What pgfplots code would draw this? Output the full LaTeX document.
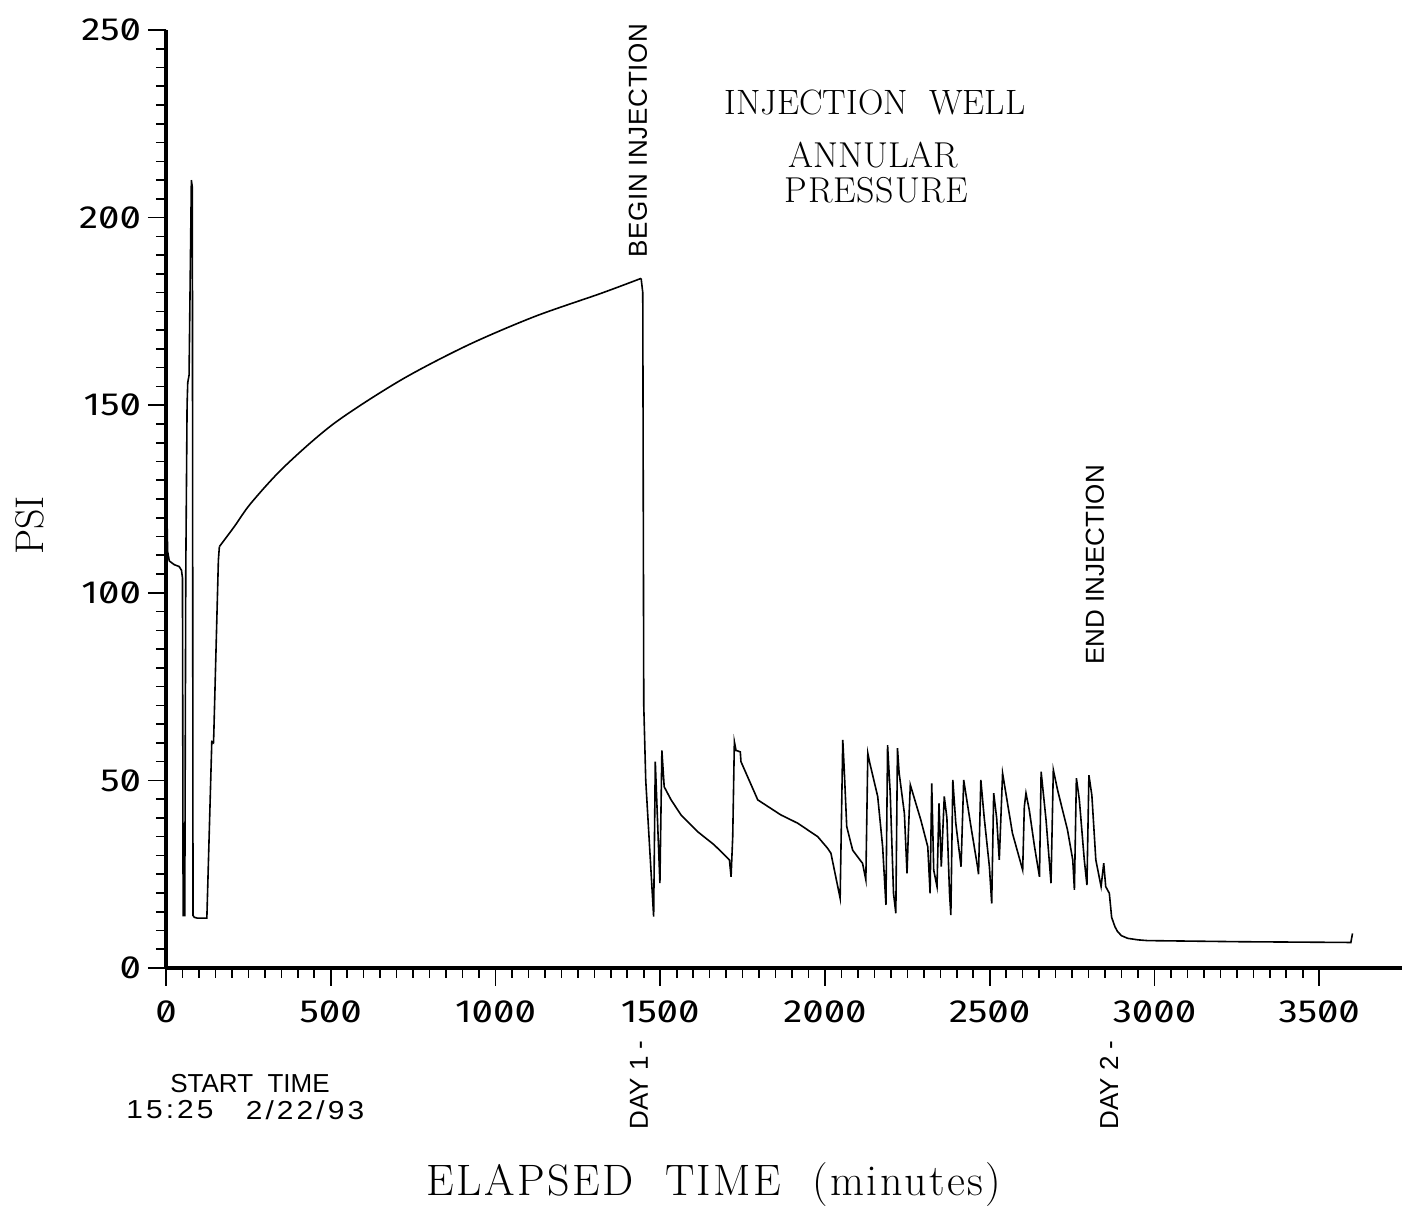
\documentclass[border=0pt]{standalone}
\usepackage{fontspec}
\usepackage{pgfplots}
\pgfplotsset{compat=1.18}
\newfontfamily\sanslab{Liberation Sans}
\newfontfamily\sanswide[LetterSpace=2.5]{Liberation Sans}
\newfontfamily\datefont[FakeStretch=1.15,LetterSpace=12]{Liberation Sans}
\newfontfamily\tickfont[FakeStretch=1.2,Numbers=SlashedZero]{Fira Sans}
\newfontfamily\xlabfont[LetterSpace=5.5]{Latin Modern Roman}
\newfontfamily\presfont[LetterSpace=2]{Latin Modern Roman}
\begin{document}
\begin{tikzpicture}
\begin{axis}[
  scale only axis, width=617.8pt, height=469pt,
  xmin=0, xmax=3750, ymin=0, ymax=250,
  axis lines=left, axis line style={-},
  x axis line style={line width=1.6pt},
  y axis line style={line width=2pt},
  xtick={0,500,...,3500}, ytick={0,50,...,250},
  minor x tick num=9, minor y tick num=9,
  tick align=outside, major tick length=9pt, minor tick length=5pt,
  every tick/.style={black, line width=0.8pt},
  tick label style={font=\tickfont\fontsize{16}{16}\selectfont},
  xticklabel style={yshift=-4pt},
  /pgf/number format/assume math mode=true,
  /pgf/number format/1000 sep={},
  clip=false,
]
% start-up and shut-in spikes
\addplot[black, line width=0.8pt] coordinates {
(0,250)(1,200)(3,120)(5,111)(10,108.5)(25,107.5)(40,107)(47,106)(50,104)(52,14)(57,14)(60,105)(64,150)(66,156)(70,158)(77,210)(80,208)(82,14)(86,13.5)(95,13.3)(124,13.3)(139,60.3)(144,60)(145,62)(159,108.7)(162,112.3)
};
% pressure build-up before injection
\addplot[black, line width=0.8pt, smooth, tension=0.5] coordinates {
(162,112.3)(207,117.6)(258,123.9)(359,133.6)(511,145.2)(713,156.7)(916,166)(1118,173.6)(1320,179.8)(1442,183.8)
};
% injection period and fall-off
\addplot[black, line width=0.8pt] coordinates {
(1442,183.8)(1447,180)(1450,70)(1456,50)(1480,13.7)(1485,55)(1499,22.6)(1505,58)(1512,48.3)(1533,44.8)(1563,40.8)(1614,36.3)(1664,32.8)(1710,28.8)(1715,24.3)(1720,35)(1725,60.3)(1730,58)(1743,57.6)(1745,55)(1796,44.8)(1866,40.8)(1917,38.6)(1978,35)(2008,31.9)(2018,30.6)(2046,18.6)(2054,60.8)(2058,53.7)(2066,37.7)(2084,31.4)(2114,27.9)(2124,23.5)(2130,57.2)(2135,55)(2160,45.7)(2175,32.3)(2185,16.8)(2190,59.4)(2198,46.6)(2208,19.9)(2215,14.6)(2220,58.6)(2225,52)(2241,41.2)(2249,25.2)(2253,35.9)(2259,48.8)(2291,39.4)(2312,32.3)(2319,19.9)(2324,49.2)(2330,26.1)(2340,21.7)(2346,43.9)(2353,27)(2362,45.7)(2370,40)(2378,19.9)(2382,14.1)(2388,50.1)(2397,38.6)(2413,27)(2421,50.1)(2443,37.7)(2463,27)(2466,25)(2473,50.1)(2483,40.3)(2499,27)(2506,17.2)(2512,46.6)(2521,40)(2529,28.8)(2539,51.9)(2569,35.9)(2600,26.1)(2605,43)(2610,46.6)(2620,42.1)(2636,32.3)(2651,24.3)(2656,52.3)(2671,39.4)(2686,22.6)(2693,52.8)(2706,47.4)(2736,36.8)(2752,28.8)(2757,20.8)(2763,50.6)(2772,44.8)(2787,28.8)(2795,22.1)(2801,51.4)(2810,46)(2822,28.8)(2838,21.7)(2846,27.9)(2852,21.7)(2863,19.9)(2870,13.5)(2880,11)(2888,9.7)(2900,8.6)(2919,7.9)(2950,7.5)(2979,7.3)(3262,7.0)(3596,6.8)(3601,9.2)
};
\node[rotate=90, anchor=west, inner sep=0pt, font=\sanswide\fontsize{13}{13}\selectfont] at (axis cs:1432,189.2) {BEGIN INJECTION};
\node[rotate=90, anchor=west, inner sep=0pt, font=\sanslab\fontsize{13}{13}\selectfont] at (axis cs:2819,80.8) {END INJECTION};
\node[rotate=90, anchor=east, inner sep=0pt, font=\sanslab\fontsize{13}{13}\selectfont] at (axis cs:1435,-19.2) {DAY 1 -};
\node[rotate=90, anchor=east, inner sep=0pt, font=\sanslab\fontsize{13}{13}\selectfont] at (axis cs:2862,-19.2) {DAY 2 -};
\node[inner sep=0pt, font=\sanslab\fontsize{13}{13}\selectfont] at (axis cs:255,-30.7) {START\ \ TIME};
\node[inner sep=0pt, font=\datefont\fontsize{13}{13}\selectfont] at (axis cs:12,-37.8) {15:25};
\node[inner sep=0pt, font=\datefont\fontsize{13}{13}\selectfont] at (axis cs:422,-37.8) {2/22/93};
\node[inner sep=0pt, font=\fontsize{17.6}{20}\selectfont] at (axis cs:2152,230.8) {INJECTION\ \ WELL};
\node[inner sep=0pt, font=\fontsize{18}{20}\selectfont] at (axis cs:2147,216.7) {ANNULAR};
\node[inner sep=0pt, font=\presfont\fontsize{18}{20}\selectfont] at (axis cs:2157,207.4) {PRESSURE};
\node[rotate=90, inner sep=0pt, font=\fontsize{20}{20}\selectfont] at (axis cs:-413,118) {PSI};
\node[inner sep=0pt, font=\xlabfont\fontsize{22}{22}\selectfont] at (axis cs:1663,-57.8) {ELAPSED\ \ TIME\ \ (minutes)};
\end{axis}
\pgfresetboundingbox
\path[use as bounding box] (-83pt,-120pt) rectangle (619.5pt,484pt);
\end{tikzpicture}
\end{document}
